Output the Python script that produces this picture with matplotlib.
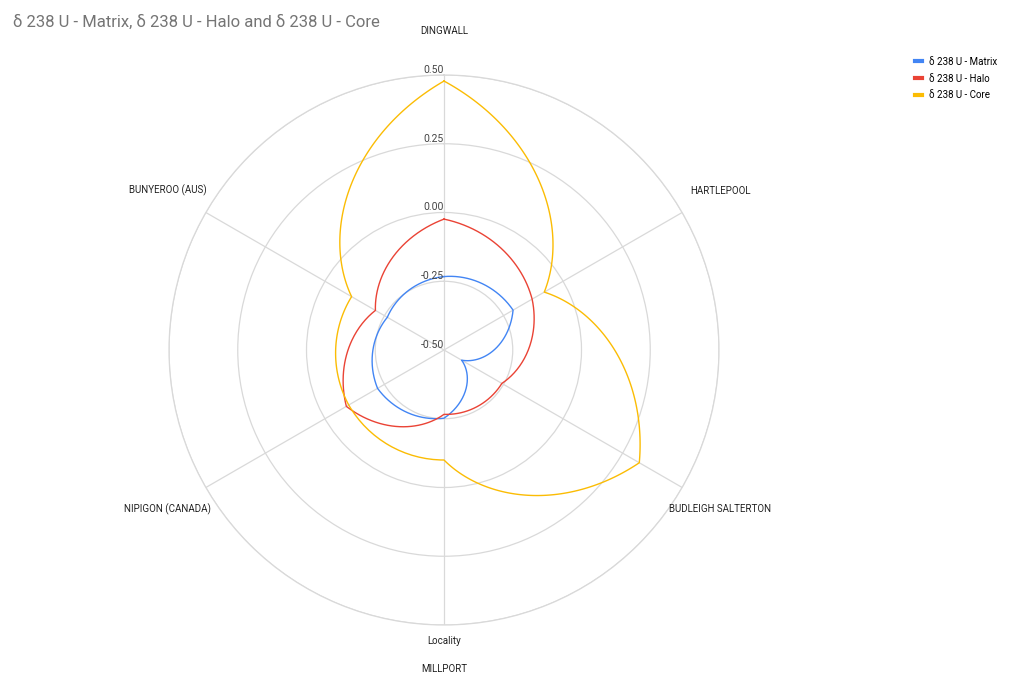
import numpy as np
import matplotlib.pyplot as plt
from matplotlib.lines import Line2D

plt.rcParams['font.family'] = ['Roboto', 'DejaVu Sans']

# data
categories = ['DINGWALL', 'HARTLEPOOL', 'BUDLEIGH SALTERTON', 'MILLPORT',
              'NIPIGON (CANADA)', 'BUNYEROO (AUS)']
matrix = [-0.233, -0.21, -0.426, -0.252, -0.221, -0.262]
halo = [-0.024, -0.13, -0.257, -0.266, -0.09, -0.212]
core = [0.478, -0.079, 0.32, -0.10, -0.10, -0.112]
series_names = ['δ 238 U - Matrix', 'δ 238 U - Halo', 'δ 238 U - Core']
r_ticks = [-0.50, -0.25, 0.00, 0.25, 0.50]

colors = ['#4285f4', '#ea4335', '#fbbc04']
grid_c = '#d9d9d9'

fig = plt.figure(figsize=(10.24, 6.77), dpi=100)
ax = fig.add_axes([169/1024, 52/677, 550/1024, 550/677], projection='polar')
ax.set_theta_zero_location('N')
ax.set_theta_direction(-1)

angles = np.deg2rad(np.arange(len(categories)) * 360.0 / len(categories))
# close the loop at 2*pi so the last segment runs forward
th = np.append(angles, 2 * np.pi)

for vals, c in zip([matrix, halo, core], colors):
    rr = np.append(vals, vals[0])
    line, = ax.plot(th, rr, color=c, lw=1.0)
    # draw segments straight in (theta, r) space, like the original
    line.get_path()._interpolation_steps = 80

ax.set_ylim(r_ticks[0], r_ticks[-1])
ax.set_xticks(angles)
ax.set_xticklabels([])
ax.set_yticks(r_ticks[1:])
ax.set_yticklabels([])
ax.tick_params(length=0)
ax.grid(color=grid_c, lw=0.9)
ax.spines['polar'].set_color(grid_c)
ax.spines['polar'].set_linewidth(0.9)

for v in r_ticks:
    ax.text(0, v, f'{v:.2f}', ha='right', va='bottom', fontsize=7.5,
            color='#444444')

for a, cat in zip(angles, categories):
    ax.text(a, 0.66, cat, ha='center', va='center', fontsize=7,
            color='#222222')
ax.text(np.pi, 0.558, 'Locality', ha='center', va='center', fontsize=7,
        color='#222222')

fig.text(13/1024, 1 - 22/677, 'δ 238 U - Matrix, δ 238 U - Halo and δ 238 U - Core',
         ha='left', va='center', fontsize=12, color='#757575')

handles = [Line2D([], [], color=c, lw=3) for c in colors]
fig.legend(handles, series_names, loc='upper left',
           bbox_to_anchor=(906/1024, 1 - 48/677), frameon=False, fontsize=7,
           handlelength=0.7, handletextpad=0.8, labelspacing=0.7)

fig.savefig('out.png', dpi=100)
